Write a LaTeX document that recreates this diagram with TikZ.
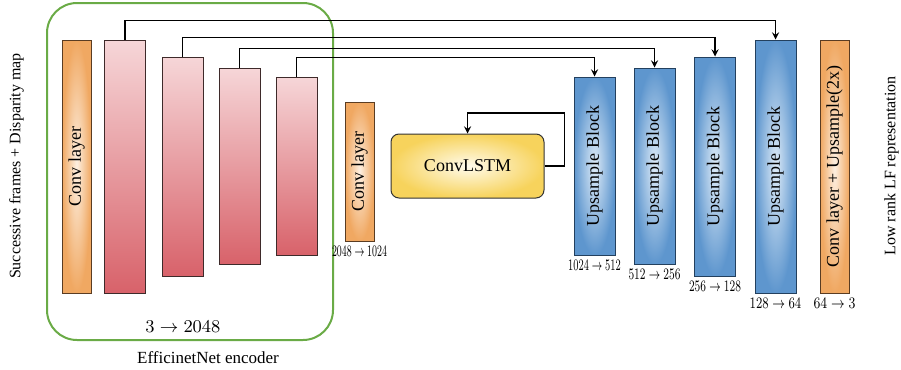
\documentclass[tikz,border=0pt]{standalone}
\usepackage[no-math]{fontspec}
\setmainfont{Liberation Serif}
\usepackage{amsmath}
\usepackage{graphicx}
\usetikzlibrary{arrows}

\definecolor{convorange}{HTML}{F0A862}
\definecolor{convlight}{HTML}{FDF0E2}
\definecolor{convedge}{HTML}{5A3C22}
\definecolor{enctop}{HTML}{F6D6D8}
\definecolor{encbottom}{HTML}{D8626A}
\definecolor{encedge}{HTML}{3E2A2A}
\definecolor{upblue}{HTML}{5E96CE}
\definecolor{uplight}{HTML}{DCEAF7}
\definecolor{upedge}{HTML}{23405E}
\definecolor{lstmgold}{HTML}{F7D35C}
\definecolor{lstmlight}{HTML}{FFFBEC}
\definecolor{encgreen}{HTML}{6AAB46}

\newcommand{\chan}[2]{\resizebox{#1}{\height}{$#2$}}

\begin{document}
\begin{tikzpicture}[x=0.5pt, y=-0.5pt, >=stealth,
            block/.style={draw, line width=0.5pt, inner sep=0pt, font=\fontsize{9}{11}\selectfont},
            convblock/.style={block, draw=convedge, inner color=convlight, outer color=convorange, minimum width=14.5pt},
            encblock/.style={block, draw=encedge, top color=enctop, bottom color=encbottom, minimum width=20.5pt},
            upblock/.style={block, draw=upedge, inner color=uplight, outer color=upblue, minimum width=20.5pt},
            lstmblock/.style={block, draw=black!80, rounded corners=4pt, inner color=lstmlight, outer color=lstmgold},
            chanlabel/.style={below, inner sep=2pt, font=\footnotesize},
            sidelabel/.style={rotate=90, font=\fontsize{8}{10}\selectfont},
            skip/.style={->, line width=0.6pt}]
            \useasboundingbox (0,0) rectangle (901,370);
            \node[draw=encgreen, line width=1pt, rounded corners=15pt, minimum width=143pt, minimum height=168.5pt, inner sep=0pt] (encoder) at (190,171.5) {};
            \node[sidelabel] (input) at (16.5,166) {Successive frames + Disparity map};
            \node[sidelabel] (output) at (891.5,166) {Low rank LF representation};
            \node[convblock, minimum height=126.5pt] (conv1) at (76.5,166.5) {\rotatebox{90}{Conv layer}};
            \node[encblock, minimum height=126.5pt] (e1) at (125,166.5) {};
            \node[encblock, minimum height=109.5pt] (e2) at (182.5,166.5) {};
            \node[encblock, minimum height=98pt] (e3) at (239.5,166) {};
            \node[encblock, minimum height=89pt] (e4) at (296.5,166) {};
            \node[convblock, minimum height=69.5pt] (conv2) at (359.5,171.5) {\rotatebox{90}{Conv layer}};
            \node[lstmblock, minimum width=76.5pt, minimum height=32pt] (lstm) at (467.5,166) {ConvLSTM};
            \node[upblock, minimum height=89pt] (u1) at (594.5,166) {\rotatebox{90}{Upsample Block}};
            \node[upblock, minimum height=98pt] (u2) at (654.5,166) {\rotatebox{90}{Upsample Block}};
            \node[upblock, minimum height=109.5pt] (u3) at (715,166.5) {\rotatebox{90}{Upsample Block}};
            \node[upblock, minimum height=126.5pt] (u4) at (775.5,166.5) {\rotatebox{90}{Upsample Block}};
            \node[convblock, minimum height=126.5pt] (conv3) at (834.5,166.5) {\rotatebox{90}{Conv layer + Upsample(2x)}};
            \node[font=\fontsize{9}{11}\selectfont] (encdim) at (183,327) {$3\rightarrow2048$};
            \node[font=\fontsize{8.5}{10}\selectfont] (encname) at (208,358) {EfficinetNet encoder};
            \node[chanlabel] (dim0) at (conv2.south) {\chan{27.5pt}{2048\rightarrow1024}};
            \node[chanlabel] (dim1) at (u1.south) {\chan{26.3pt}{1024\rightarrow512}};
            \node[chanlabel] (dim2) at (u2.south) {\chan{26pt}{512\rightarrow256}};
            \node[chanlabel] (dim3) at (u3.south) {\chan{26pt}{256\rightarrow128}};
            \node[chanlabel] (dim4) at (u4.south) {\chan{25.8pt}{128\rightarrow64}};
            \node[chanlabel] (dim5) at (conv3.south) {\chan{21pt}{64\rightarrow3}};
            \draw[skip] (e1.north) -- ++(0,-19) -| (u4.north);
            \draw[skip] (e2.north) -- ++(0,-19) -| (u3.north);
            \draw[skip] (e3.north) -- ++(0,-19) -| (u2.north);
            \draw[skip] (e4.north) -- ++(0,-19) -| (u1.north);
            \draw[skip] (lstm.east) -- ++(20,0) -- ++(0,-53) -| (lstm.north);
        \end{tikzpicture}
\end{document}
